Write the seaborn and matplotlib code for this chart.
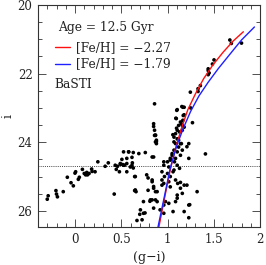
import numpy as np
import pandas as pd
import matplotlib
matplotlib.use("Agg")
import matplotlib.pyplot as plt
import seaborn as sns
from matplotlib.ticker import MultipleLocator, FuncFormatter

# Isochrones (g-i, i)
iso_red_gi = [0.905, 0.97, 1.03, 1.09, 1.15, 1.22, 1.30, 1.39, 1.49, 1.60, 1.71, 1.82]
iso_red_i  = [26.5, 25.6, 24.8, 24.15, 23.6, 23.05, 22.6, 22.15, 21.75, 21.38, 21.05, 20.78]
iso_blue_gi = [0.895, 0.965, 1.03, 1.10, 1.17, 1.25, 1.34, 1.44, 1.55, 1.67, 1.80, 1.94]
iso_blue_i  = [26.5, 25.6, 24.75, 24.1, 23.6, 23.1, 22.65, 22.25, 21.85, 21.45, 21.02, 20.64]

# Observed stars
star_gi = [
    1.674, 1.69, 1.80, 1.503, 1.486, 1.44, 1.44, 1.45, 1.44, 1.355, 1.33, 1.33, 1.247,
    1.167, 1.18, 1.25, 1.105, 0.86, 1.155,
    1.10, 1.09, 1.18, 1.166, 1.15, 1.098, 1.18, 1.27, 1.13, 1.16, 1.058, 1.095, 1.17,
    1.14, 1.12, 1.16, 1.105, 1.087, 1.07, 1.105, 1.12, 1.07, 1.087, 1.14,
    0.85, 0.85, 0.86, 0.86, 0.88, 0.87, 0.87,
    1.12, 1.23, 1.07, 1.105, 1.05, 1.14, 1.087, 1.03, 1.23, 1.15, 1.16, 1.05, 1.03, 0.96,
    1.0, 1.075, 1.105, 0.96, 1.014, 1.13, 1.07, 0.94, 1.0, 0.967, 1.03, 1.06, 1.21, 1.41,
    0.88, 0.834,
    0.94, 0.96, 1.014, 1.087, 1.11, 0.834, 0.85, 0.888, 0.94, 1.03, 1.14, 1.18, 1.21,
    1.105, 1.16, 1.105, 1.087, 0.834, 0.87, 0.888, 0.978, 1.014, 0.96, 0.92, 0.96, 1.06,
    1.18, 1.23, 1.23, 1.32, 1.24, 1.14,
    0.525, 0.58, 0.63, 0.69, 0.76, 0.85, 0.49, 0.525, 0.56, 0.616, 0.63, 0.652, 0.56,
    0.652, 0.66, 0.834, 0.85, 0.87, 0.815, 0.74, 0.85, 0.707, 0.74, 0.725, 0.67,
    0.70, 0.757, 0.81, 0.79, 0.775, 0.79, 0.88, 0.87,
    -0.30, -0.29, -0.206, -0.2, -0.19, -0.127, -0.083, -0.043, -0.018, 0.007, 0.0, 0.036,
    0.047, 0.08, 0.1, 0.115, 0.127, 0.135, 0.152, 0.18, 0.185, 0.217, 0.247, 0.326, 0.36,
    0.424, 0.435, 0.446, 0.46, 0.48, 0.49, 0.507, 0.515, 0.536, 0.56, 0.58, 0.598, 0.616,
    0.62, 0.645, 0.645,
]
star_i = [
    21.02, 21.12, 21.11, 21.60, 21.72, 21.86, 21.91, 21.98, 22.03, 22.35, 22.44, 22.52, 22.54,
    22.98, 22.98, 23.0, 23.05, 22.88, 22.96,
    23.07, 23.30, 23.20, 23.36, 23.46, 23.59, 23.56, 23.43, 23.70, 23.65, 23.78, 23.31, 23.22,
    23.41, 23.51, 23.51, 23.65, 23.75, 23.85, 23.90, 23.94, 23.99, 24.04, 24.04,
    23.46, 23.54, 23.65, 23.80, 23.94, 23.99, 23.80,
    24.14, 24.04, 24.23, 24.28, 24.33, 24.38, 24.47, 24.47, 24.47, 24.04, 24.23, 24.38, 24.52, 24.57,
    24.57, 24.57, 24.67, 24.67, 24.72, 24.76, 24.81, 24.86, 24.91, 25.0, 25.0, 24.86, 24.13, 24.34,
    24.04, 24.43,
    25.1, 25.2, 25.15, 25.1, 25.2, 25.15, 25.34, 25.44, 25.25, 25.30, 25.34, 25.25, 25.25,
    25.54, 25.49, 25.63, 25.73, 25.68, 25.68, 25.73, 25.73, 25.78, 25.83, 25.97, 26.07, 26.02,
    26.02, 26.2, 25.83, 25.44, 25.82, 25.17,
    24.28, 24.28, 24.30, 24.33, 24.30, 24.43, 24.62, 24.67, 24.62, 24.67, 24.75, 25.0, 24.86,
    25.39, 25.44, 25.1, 25.29, 25.44, 25.68, 25.73, 25.92, 25.97, 26.07, 26.26, 26.28,
    26.1, 26.06, 25.72, 25.4, 24.95, 25.04, 23.98, 23.79,
    25.66, 25.56, 25.41, 25.51, 25.59, 25.44, 25.02, 25.18, 25.27, 24.86, 24.90, 25.08,
    25.02, 24.79, 24.91, 24.95, 24.88, 24.95, 24.91, 24.78, 24.85, 24.86, 24.57, 24.70, 24.60,
    25.51, 24.67, 24.79, 24.70, 24.86, 24.64, 24.50, 24.65, 24.67, 24.47, 24.28, 24.72, 24.44,
    24.60, 25.0, 25.41,
]

hb_level = 24.7
legend_lines = ["[Fe/H] = \u22122.27", "[Fe/H] = \u22121.79"]

sns.set_style("ticks")
plt.rcParams["font.family"] = ["DejaVu Serif"]

fig = plt.figure(figsize=(2.66, 2.65), dpi=100)
ax = fig.add_axes([38/266, 1-227/265, (260-38)/266, (227-5)/265])

stars = pd.DataFrame({"gi": star_gi, "i": star_i})
red = pd.DataFrame({"gi": iso_red_gi, "i": iso_red_i})
blue = pd.DataFrame({"gi": iso_blue_gi, "i": iso_blue_i})

ax.axhline(hb_level, color="#444444", lw=0.7, ls=(0, (1, 1.2)), zorder=1)
sns.scatterplot(data=stars, x="gi", y="i", ax=ax, color="black", s=7,
                edgecolor="none", zorder=3, legend=False)
sns.lineplot(data=red, x="gi", y="i", ax=ax, color="#ff1010", lw=1.0, sort=False,
             estimator=None, zorder=4, legend=False)
sns.lineplot(data=blue, x="gi", y="i", ax=ax, color="#2020ff", lw=1.0, sort=False,
             estimator=None, zorder=4, legend=False)

ax.set_xlim(-0.4, 2.0)
ax.set_ylim(26.47, 20.0)
ax.xaxis.set_major_locator(MultipleLocator(0.5))
ax.xaxis.set_minor_locator(MultipleLocator(0.1))
ax.yaxis.set_major_locator(MultipleLocator(2))
ax.yaxis.set_minor_locator(MultipleLocator(0.5))
ax.xaxis.set_major_formatter(FuncFormatter(lambda v, p: "%g" % v))
ax.tick_params(which="both", direction="in", top=True, right=True,
               color="#333333", width=0.6, labelsize=8.5, labelcolor="#222222")
ax.tick_params(which="major", length=6, pad=4)
ax.tick_params(which="minor", length=3)
for s in ax.spines.values():
    s.set_linewidth(0.8)
    s.set_color("#333333")

ax.set_xlabel("(g\u2212i)", fontsize=9, color="#222222", labelpad=4)
ax.set_ylabel("i", fontsize=9, color="#222222")
ax.yaxis.set_label_coords(-0.105, 0.5)

# annotation / legend
fs = 8.8
ax.text(0.09, 0.90, "Age = 12.5 Gyr", transform=ax.transAxes, fontsize=fs,
        va="center", ha="left", color="#222222")
ax.plot([0.077, 0.144], [0.81, 0.81], transform=ax.transAxes, color="#ff1010", lw=1.0)
ax.text(0.171, 0.81, legend_lines[0], transform=ax.transAxes, fontsize=fs,
        va="center", ha="left", color="#222222")
ax.plot([0.077, 0.144], [0.734, 0.734], transform=ax.transAxes, color="#2020ff", lw=1.0)
ax.text(0.171, 0.734, legend_lines[1], transform=ax.transAxes, fontsize=fs,
        va="center", ha="left", color="#222222")
ax.text(0.073, 0.64, "BaSTI", transform=ax.transAxes, fontsize=fs,
        va="center", ha="left", color="#222222")

fig.savefig("out.png", dpi=100)
